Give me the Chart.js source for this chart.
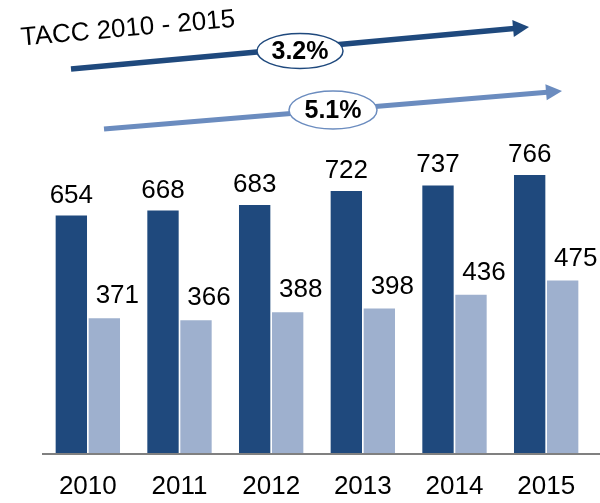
<!DOCTYPE html>
<html>
<head>
<meta charset="utf-8">
<script src="https://cdn.jsdelivr.net/npm/chart.js@4"></script>
<style>
  html, body { margin: 0; padding: 0; background: #fff; }
  #wrap { width: 600px; height: 503px; }
</style>
</head>
<body>
<div id="wrap"><canvas id="chart" width="600" height="503"></canvas></div>
<script>
// data
const years = ['2010', '2011', '2012', '2013', '2014', '2015'];
const seriesA = [654, 668, 683, 722, 737, 766];
const seriesB = [371, 366, 388, 398, 436, 475];
const titleText = 'TACC 2010 - 2015';
const rateA = '3.2%';
const rateB = '5.1%';

const darkBlue = '#1F497D';
const lightBlue = '#9EB0CE';
const arrowLight = '#6B8CBF';
const FONT = '"Liberation Sans", Arial, sans-serif';

// value labels over the bars
const valueLabels = {
  id: 'valueLabels',
  afterDatasetsDraw(chart) {
    const ctx = chart.ctx;
    ctx.save();
    ctx.fillStyle = '#000';
    ctx.font = '26px ' + FONT;
    ctx.textAlign = 'center';
    ctx.textBaseline = 'alphabetic';
    chart.data.datasets.forEach((ds, i) => {
      const meta = chart.getDatasetMeta(i);
      meta.data.forEach((bar, j) => {
        const dx = i === 1 ? 13 : 0;
        const dy = i === 1 ? 15 : 13;
        ctx.fillText(String(ds.data[j]), bar.x + dx, bar.y - dy);
      });
    });
    // axis line runs to the right edge
    const a = chart.chartArea;
    ctx.strokeStyle = '#808080';
    ctx.lineWidth = 2;
    ctx.beginPath();
    ctx.moveTo(a.left, a.bottom + 1);
    ctx.lineTo(chart.width, a.bottom + 1);
    ctx.stroke();
    ctx.restore();
  }
};

function drawArrow(ctx, x1, y1, x2, y2, color, width, head, headW) {
  const ang = Math.atan2(y2 - y1, x2 - x1);
  const bx = x2 - head * Math.cos(ang), by = y2 - head * Math.sin(ang);
  ctx.strokeStyle = color;
  ctx.fillStyle = color;
  ctx.lineWidth = width;
  ctx.beginPath();
  ctx.moveTo(x1, y1);
  ctx.lineTo(bx + 1, by);
  ctx.stroke();
  const hw = headW / 2;
  ctx.beginPath();
  ctx.moveTo(x2, y2);
  ctx.lineTo(bx + hw * Math.sin(ang), by - hw * Math.cos(ang));
  ctx.lineTo(bx - hw * Math.sin(ang), by + hw * Math.cos(ang));
  ctx.closePath();
  ctx.fill();
}

function drawBubble(ctx, cx, cy, rx, ry, text, color) {
  ctx.beginPath();
  ctx.ellipse(cx, cy, rx, ry, 0, 0, Math.PI * 2);
  ctx.fillStyle = '#fff';
  ctx.fill();
  ctx.lineWidth = 1.5;
  ctx.strokeStyle = color;
  ctx.stroke();
  ctx.fillStyle = '#000';
  ctx.font = 'bold 25px ' + FONT;
  ctx.textAlign = 'center';
  ctx.textBaseline = 'middle';
  ctx.fillText(text, cx, cy + 1);
}

// growth arrows and heading
const growthArrows = {
  id: 'growthArrows',
  afterDraw(chart) {
    const ctx = chart.ctx;
    ctx.save();
    ctx.save();
    ctx.translate(128, 29);
    ctx.rotate(-5 * Math.PI / 180);
    ctx.fillStyle = '#000';
    ctx.font = '26px ' + FONT;
    ctx.textAlign = 'center';
    ctx.textBaseline = 'middle';
    ctx.fillText(titleText, 0, 0);
    ctx.restore();

    drawArrow(ctx, 71, 69, 529, 27, darkBlue, 5.5, 16, 17);
    drawBubble(ctx, 300, 51, 43, 17.5, rateA, darkBlue);
    drawArrow(ctx, 104, 129, 562, 91, arrowLight, 5, 16, 16);
    drawBubble(ctx, 333, 110, 44, 19, rateB, arrowLight);
    ctx.restore();
  }
};

new Chart(document.getElementById('chart'), {
  type: 'bar',
  data: {
    labels: years,
    datasets: [
      { data: seriesA, backgroundColor: darkBlue, barPercentage: 0.95, categoryPercentage: 0.72 },
      { data: seriesB, backgroundColor: lightBlue, barPercentage: 0.95, categoryPercentage: 0.72 }
    ]
  },
  options: {
    responsive: false,
    animation: false,
    layout: { padding: { left: 42, right: 8, top: 90, bottom: 0 } },
    plugins: { legend: { display: false }, tooltip: { enabled: false } },
    scales: {
      x: {
        grid: { display: false, drawTicks: false },
        border: { display: false },
        ticks: { color: '#000', font: { family: FONT, size: 26 }, padding: 18, maxRotation: 0 },
        afterFit(scale) { scale.height = 50; }
      },
      y: { display: false, min: 0, max: 1000 }
    }
  },
  plugins: [valueLabels, growthArrows]
});
</script>
</body>
</html>
